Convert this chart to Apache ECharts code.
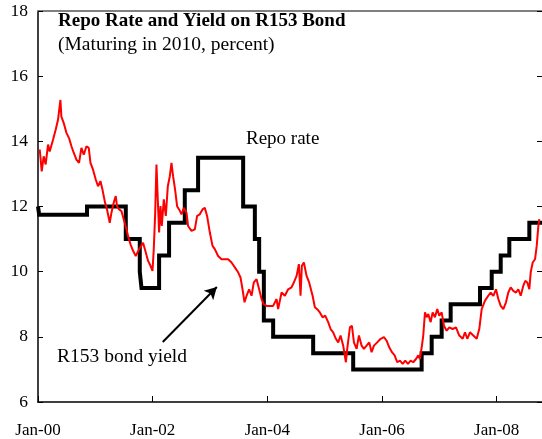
<!DOCTYPE html>
<html>
<head>
<meta charset="utf-8">
<script src="https://cdn.jsdelivr.net/npm/echarts@6/dist/echarts.min.js"></script>
<style>
html,body{margin:0;padding:0;background:#fff;}
#chart{width:542px;height:439px;}
</style>
</head>
<body>
<div id="chart"></div>
<script>
// ---- data (x in decimal years) ----
var titleText = 'Repo Rate and Yield on R153 Bond';
var subtitleText = '(Maturing in 2010, percent)';
var repoLabel = 'Repo rate';
var yieldLabel = 'R153 bond yield';

var xTickYears = [2000, 2002, 2004, 2006, 2008];
var xTickLabels = ['Jan-00', 'Jan-02', 'Jan-04', 'Jan-06', 'Jan-08'];
var yTicks = [6, 8, 10, 12, 14, 16, 18];

// repo rate change dates and new levels
var repoDates = [2000.0, 2000.02, 2000.855, 2001.531, 2001.775, 2001.805, 2002.112, 2002.286, 2002.560, 2002.792,
  2003.578, 2003.782, 2003.857, 2003.939, 2004.101, 2004.799, 2005.497, 2006.691, 2006.866, 2007.040,
  2007.197, 2007.709, 2007.913, 2008.070, 2008.220, 2008.569, 2008.79];
var repoValues = [12, 11.75, 12, 11, 10, 9.5, 10.5, 11.5, 12.5, 13.5,
  12, 11, 10, 8.5, 8, 7.5, 7, 7.5, 8, 8.5,
  9, 9.5, 10, 10.5, 11, 11.5, 11.5];

// R153 yield
var yieldDates = [2000.030,2000.065,2000.099,2000.134,2000.175,2000.204,2000.262,2000.309,2000.349,2000.391,
  2000.408,2000.449,2000.496,2000.541,2000.583,2000.623,2000.670,2000.716,2000.757,2000.798,
  2000.845,2000.885,2000.915,2000.960,2001.007,2001.047,2001.089,2001.124,2001.169,2001.204,
  2001.251,2001.281,2001.321,2001.356,2001.379,2001.414,2001.455,2001.496,2001.543,2001.571,
  2001.613,2001.658,2001.705,2001.763,2001.832,2001.880,2001.920,2001.962,2001.997,2002.019,
  2002.042,2002.066,2002.089,2002.112,2002.136,2002.159,2002.194,2002.229,2002.264,2002.299,
  2002.328,2002.356,2002.391,2002.426,2002.461,2002.503,2002.543,2002.590,2002.618,2002.677,
  2002.735,2002.775,2002.822,2002.869,2002.909,2002.949,2002.997,2003.044,2003.084,2003.141,
  2003.201,2003.258,2003.316,2003.375,2003.433,2003.490,2003.532,2003.567,2003.602,2003.637,
  2003.682,2003.724,2003.764,2003.812,2003.857,2003.899,2003.939,2003.986,2004.044,2004.101,
  2004.161,2004.188,2004.248,2004.305,2004.363,2004.422,2004.450,2004.510,2004.550,2004.579,
  2004.602,2004.637,2004.684,2004.729,2004.789,2004.829,2004.869,2004.916,2004.963,2005.009,
  2005.061,2005.103,2005.148,2005.195,2005.236,2005.277,2005.323,2005.370,2005.393,2005.440,
  2005.475,2005.510,2005.557,2005.597,2005.644,2005.684,2005.731,2005.777,2005.818,2005.859,
  2005.916,2005.976,2006.033,2006.080,2006.126,2006.173,2006.220,2006.265,2006.312,2006.360,
  2006.405,2006.452,2006.499,2006.545,2006.592,2006.632,2006.661,2006.696,2006.719,2006.749,
  2006.778,2006.806,2006.848,2006.883,2006.923,2006.963,2006.998,2007.040,2007.080,2007.127,
  2007.173,2007.232,2007.290,2007.347,2007.407,2007.447,2007.487,2007.534,2007.592,2007.651,
  2007.696,2007.738,2007.796,2007.853,2007.895,2007.941,2007.988,2008.028,2008.070,2008.115,
  2008.162,2008.202,2008.244,2008.290,2008.337,2008.377,2008.419,2008.464,2008.499,2008.534,
  2008.569,2008.593,2008.628,2008.668,2008.698,2008.726,2008.743];
var yieldValues = [13.75,13.08,13.54,13.29,13.90,13.69,14.05,14.36,14.66,15.27,
  14.76,14.56,14.26,14.10,13.85,13.65,13.44,13.34,13.80,13.59,
  13.85,13.80,13.34,13.13,12.83,12.62,12.78,12.52,12.12,11.91,
  11.50,11.81,12.12,12.32,12.01,11.91,11.86,11.60,11.30,11.09,
  10.84,10.64,10.48,10.69,10.89,10.59,10.33,10.18,10.02,10.69,
  11.71,13.29,12.22,11.20,12.01,11.40,12.22,11.71,12.62,12.93,
  13.34,12.93,12.52,12.01,11.91,11.76,11.96,11.81,11.40,11.25,
  11.30,11.71,11.76,11.91,11.96,11.71,11.20,10.79,10.69,10.48,
  10.38,10.38,10.38,10.28,10.13,9.98,9.82,9.46,9.06,9.26,
  9.46,9.26,9.67,9.77,9.46,9.16,9.00,8.95,8.95,8.95,
  9.16,8.85,9.36,9.26,9.46,9.52,9.62,9.87,10.23,9.26,
  10.18,10.28,9.87,9.67,9.26,8.91,8.85,8.75,8.60,8.65,
  8.45,8.24,8.14,7.94,7.83,8.04,7.73,7.22,7.63,8.29,
  8.34,7.83,7.63,8.04,7.73,7.63,7.73,7.83,7.53,7.73,
  7.83,7.94,7.99,7.88,7.68,7.53,7.43,7.22,7.27,7.17,
  7.27,7.17,7.27,7.22,7.32,7.43,7.32,7.73,8.04,8.75,
  8.60,8.70,8.45,8.75,8.60,8.85,8.65,8.75,8.34,8.19,
  8.29,8.24,8.29,8.04,7.94,8.14,7.94,8.14,8.04,7.94,
  8.24,8.85,9.11,9.26,9.36,9.26,9.46,9.16,8.95,8.85,
  9.06,9.36,9.52,9.41,9.36,9.46,9.26,9.57,9.72,9.67,
  9.46,9.98,10.28,10.38,10.79,11.40,11.61];

// arrow annotation (data coordinates)
var arrowFrom = [2002.176, 7.84];
var arrowTo = [2003.119, 9.53];

var X_MIN = 2000, X_MAX = 2008.79;
var FONT = '"Liberation Serif", "Times New Roman", serif';

function pairs(xs, ys) { return xs.map(function (x, i) { return [x, ys[i]]; }); }
function xLabel(v) {
  for (var i = 0; i < xTickYears.length; i++) {
    if (Math.abs(v - xTickYears[i]) < 1e-6) return xTickLabels[i];
  }
  return '';
}

var chart = echarts.init(document.getElementById('chart'), null, { renderer: 'canvas' });
var option = {
  animation: false,
  backgroundColor: '#ffffff',
  grid: { left: 38, right: 0, top: 11, bottom: 36 },
  xAxis: [{
    type: 'value', min: X_MIN, max: X_MAX, interval: 2, position: 'bottom',
    axisLine: { lineStyle: { color: '#000', width: 1.5 } },
    axisTick: { inside: true, length: 6, lineStyle: { color: '#000', width: 1 } },
    axisLabel: { formatter: xLabel, showMaxLabel: false, color: '#000', fontFamily: FONT, fontSize: 17, margin: 20 },
    splitLine: { show: false }
  }, {
    type: 'value', min: X_MIN, max: X_MAX, position: 'top',
    axisLine: { lineStyle: { color: '#808080', width: 2 } },
    axisTick: { show: false }, axisLabel: { show: false }, splitLine: { show: false }
  }],
  yAxis: [{
    type: 'value', min: 6, max: 18, interval: 2, position: 'left',
    axisLine: { show: true, lineStyle: { color: '#000', width: 1.5 } },
    axisTick: { show: true, inside: true, length: 5, lineStyle: { color: '#000', width: 1 } },
    axisLabel: { color: '#000', fontFamily: FONT, fontSize: 17.5, margin: 10 },
    splitLine: { show: false }
  }, {
    type: 'value', min: 6, max: 18, interval: 2, position: 'right',
    axisLine: { show: true, lineStyle: { color: '#000', width: 1 } },
    axisTick: { show: true, inside: true, length: 5, lineStyle: { color: '#000', width: 1 } },
    axisLabel: { show: false }, splitLine: { show: false }
  }],
  series: [{
    name: 'Repo rate', type: 'line', step: 'end', showSymbol: false, symbol: 'none',
    data: pairs(repoDates, repoValues),
    lineStyle: { color: '#000', width: 4, join: 'miter', cap: 'butt' }, z: 2
  }, {
    name: 'R153 bond yield', type: 'line', showSymbol: false, symbol: 'none',
    data: pairs(yieldDates, yieldValues),
    lineStyle: { color: '#ff0000', width: 2 }, z: 3,
    markLine: {
      silent: true, symbol: ['none', 'arrow'], symbolSize: [10, 12],
      label: { show: false },
      lineStyle: { color: '#000', width: 2, type: 'solid' },
      data: [[{ coord: arrowFrom }, { coord: arrowTo }]]
    }
  }],
  graphic: [
    { type: 'text', left: 58, top: 12, style: { text: titleText, font: 'bold 19px ' + FONT, fill: '#000' } },
    { type: 'text', left: 58, top: 35, style: { text: subtitleText, font: '19.5px ' + FONT, fill: '#000' } },
    { type: 'text', left: 246, top: 130, style: { text: repoLabel, font: '19px ' + FONT, fill: '#000' } },
    { type: 'text', left: 57, top: 347, style: { text: yieldLabel, font: '19.5px ' + FONT, fill: '#000' } }
  ]
};
chart.setOption(option);
</script>
</body>
</html>
